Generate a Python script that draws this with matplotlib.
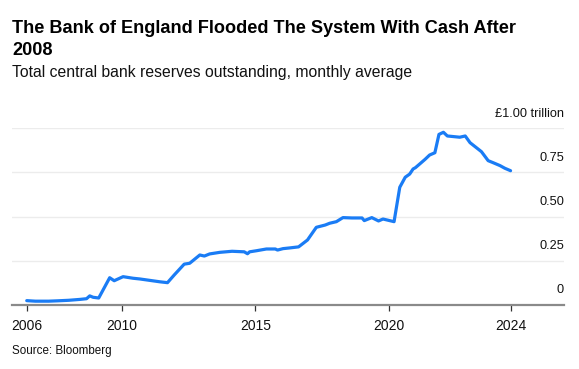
import matplotlib
matplotlib.use("Agg")
import matplotlib.pyplot as plt
import pandas as pd

# reserves outstanding, £ trillion
dates = ["2006-06-05", "2006-10-01", "2007-04-01", "2007-08-01", "2008-01-01",
         "2008-06-01", "2008-09-01", "2008-10-15", "2008-12-01", "2009-02-15",
         "2009-07-15", "2009-09-15", "2010-01-15", "2010-06-01", "2010-09-01",
         "2011-06-01", "2011-09-15", "2011-12-15", "2012-05-01", "2012-07-15",
         "2012-12-01", "2013-02-01", "2013-04-15", "2013-09-01", "2014-02-15",
         "2014-08-01", "2014-09-15", "2014-10-15", "2015-01-15", "2015-06-01",
         "2015-10-01", "2015-11-01", "2016-01-15", "2016-04-15", "2016-08-15",
         "2016-12-15", "2017-04-15", "2017-08-15", "2017-10-15", "2018-01-15",
         "2018-04-15", "2018-08-15", "2019-01-01", "2019-02-01", "2019-05-15",
         "2019-08-15", "2019-10-15", "2020-03-15", "2020-06-01", "2020-08-15",
         "2020-10-15", "2020-12-01", "2021-01-01", "2021-03-01", "2021-05-15",
         "2021-07-15", "2021-09-25", "2021-11-20", "2022-01-20", "2022-03-15",
         "2022-09-01", "2022-11-15", "2023-01-20", "2023-06-25", "2023-09-25",
         "2023-12-05", "2024-03-05", "2024-05-10", "2024-07-28"]
reserves = [0.023, 0.020, 0.020, 0.022, 0.025,
            0.030, 0.034, 0.050, 0.042, 0.038,
            0.153, 0.136, 0.159, 0.150, 0.146,
            0.130, 0.125, 0.168, 0.230, 0.235,
            0.282, 0.276, 0.288, 0.297, 0.303,
            0.300, 0.289, 0.300, 0.306, 0.316,
            0.316, 0.310, 0.318, 0.322, 0.328,
            0.367, 0.439, 0.452, 0.462, 0.471,
            0.494, 0.492, 0.492, 0.477, 0.494,
            0.475, 0.486, 0.471, 0.666, 0.723,
            0.741, 0.770, 0.777, 0.798, 0.825,
            0.849, 0.862, 0.966, 0.978, 0.957,
            0.950, 0.957, 0.919, 0.868, 0.817,
            0.805, 0.789, 0.774, 0.760]

ytick_vals = [0, 0.25, 0.50, 0.75, 1.00]
ytick_labels = ["0", "0.25", "0.50", "0.75", "£1.00 trillion"]
xtick_years = ["2010-01-01", "2015-01-01", "2020-01-01"]
xtick_labels = ["2006", "2010", "2015", "2020", "2024"]

x = pd.to_datetime(dates)

plt.rcParams['font.family'] = ['Liberation Sans', 'DejaVu Sans']

fig = plt.figure(figsize=(5.79, 3.69), dpi=100)
W, H = 579, 369
ax = fig.add_axes([12 / W, 1 - 304.7 / H, (564 - 12) / W, 176.3 / H])

ax.plot(x, reserves, color="#1a7cf5", lw=2.3, solid_joinstyle="round",
        solid_capstyle="round", zorder=3)

ax.set_ylim(0, 1.0)
ax.set_xlim(pd.Timestamp("2005-11-15"), pd.Timestamp("2026-07-30"))

for v in ytick_vals[1:]:
    ax.axhline(v, color="#ececec", lw=1.0, zorder=1)
for v, lab in zip(ytick_vals, ytick_labels):
    ax.annotate(lab, xy=(1.0, v), xycoords=("axes fraction", "data"),
                xytext=(0, 6), textcoords="offset points",
                ha="right", va="bottom", fontsize=9.2, color="#111111")

for s in ["top", "right", "left"]:
    ax.spines[s].set_visible(False)
ax.spines["bottom"].set_color("#8a8a8a")
ax.spines["bottom"].set_linewidth(1.6)
ax.spines["bottom"].set_zorder(4)

ax.set_yticks([])
xt = [x[0]] + list(pd.to_datetime(xtick_years)) + [x[-1]]
ax.set_xticks(xt)
ax.set_xticklabels(xtick_labels)
ax.tick_params(axis="x", length=4, width=0.9, color="#333333", pad=6,
               labelsize=10, labelcolor="#111111")

fig.text(12 / W, 1 - 33.3 / H,
         "The Bank of England Flooded The System With Cash After",
         fontsize=13.1, fontweight="bold", va="baseline", ha="left", color="#000000")
fig.text(12 / W, 1 - 55 / H, "2008",
         fontsize=13.1, fontweight="bold", va="baseline", ha="left", color="#000000")
fig.text(12 / W, 1 - 77.3 / H,
         "Total central bank reserves outstanding, monthly average",
         fontsize=11.3, va="baseline", ha="left", color="#111111")
fig.text(12 / W, 1 - 354 / H, "Source: Bloomberg",
         fontsize=8.4, va="baseline", ha="left", color="#111111")

fig.savefig("out.png", dpi=100)
